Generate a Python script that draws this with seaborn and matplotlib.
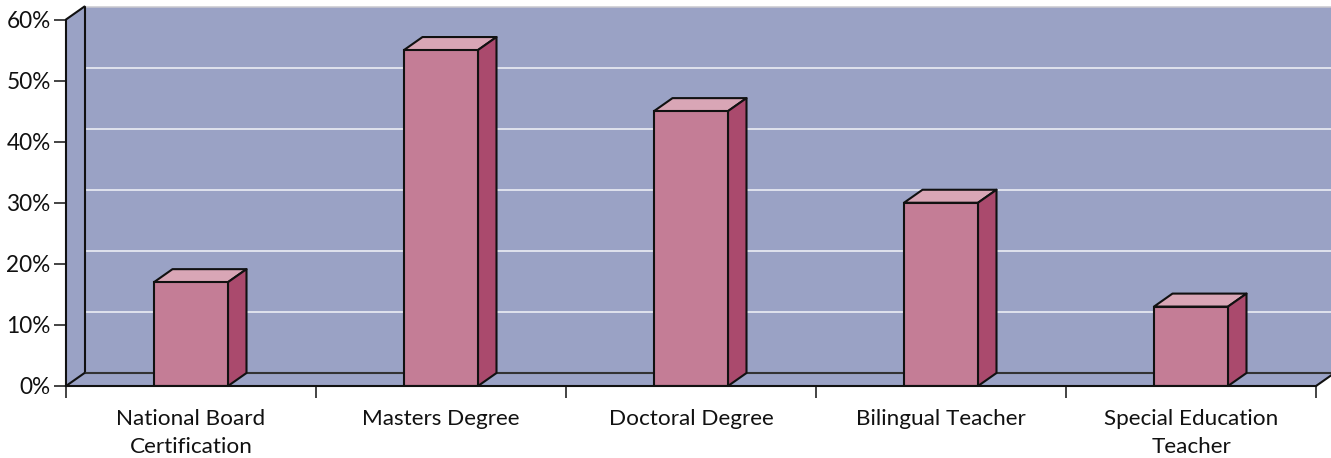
import matplotlib
matplotlib.use("Agg")
import matplotlib.pyplot as plt
import seaborn as sns
import pandas as pd
from matplotlib.patches import Polygon
from matplotlib.ticker import MultipleLocator, FuncFormatter

categories = ["National Board\nCertification", "Masters Degree", "Doctoral Degree",
              "Bilingual Teacher", "Special Education\nTeacher"]
values = [17, 55, 45, 30, 13]
y_ticks = [0, 10, 20, 30, 40, 50, 60]

W, H = 1331, 458
LEFT, RIGHT, BOTTOM, TOP = 66, 1316, 386, 19.5
WALL = "#9aa2c5"
FRONT = "#c47d96"
TOPFACE = "#d9a6b6"
SIDE = "#aa4a6d"
EDGE = "#111111"

sns.set_theme(style="white", rc={"font.family": ["Lato", "DejaVu Sans"]})
fig = plt.figure(figsize=(W / 100, H / 100), dpi=100)
ax = fig.add_axes([LEFT / W, 1 - BOTTOM / H, (RIGHT - LEFT) / W, (BOTTOM - TOP) / H])

df = pd.DataFrame({"category": categories, "value": values})
BAR_W = 0.296
sns.barplot(data=df, x="category", y="value", ax=ax, color=FRONT, saturation=1,
            width=BAR_W, edgecolor=EDGE, linewidth=1.5, zorder=6)
ax.set_xlim(-0.5, 4.5)
ax.set_ylim(0, 60)
ax.set_xlabel("")
ax.set_ylabel("")

# depth of the pseudo-3D projection, in data units
DX = 18.5 / ((RIGHT - LEFT) / 5)
DY = 13 / ((BOTTOM - TOP) / 60)
x0, x1 = -0.5, 4.5

def face(points, color, z, lw=1.5, edge=EDGE):
    ax.add_patch(Polygon(points, closed=True, facecolor=color, edgecolor=edge,
                         linewidth=lw, zorder=z, clip_on=False, joinstyle="round"))

# back wall, side wall and floor
face([(x0 + DX, DY), (x1 + DX, DY), (x1 + DX, 60 + DY), (x0 + DX, 60 + DY)], WALL, 1, lw=0)
face([(x0, 0), (x0 + DX, DY), (x0 + DX, 60 + DY), (x0, 60)], WALL, 1, lw=0)
face([(x0, 0), (x1, 0), (x1 + DX, DY), (x0 + DX, DY)], WALL, 1, lw=0)

# gridlines on the back wall; the top edge is a softer grey
for y in y_ticks[1:]:
    ax.plot([x0 + DX, x1 + DX], [y + DY, y + DY], color="#f2f3f8" if y < 60 else "#c9c9cf",
            lw=1.1, zorder=2, clip_on=False, solid_capstyle="butt")

# wall outlines
line = dict(color=EDGE, lw=1.5, zorder=3, clip_on=False)
ax.plot([x0 + DX, x0 + DX], [DY, 60 + DY], **line)
ax.plot([x0 + DX, x1 + DX], [DY, DY], color="#333333", lw=1.5, zorder=3, clip_on=False)
ax.plot([x0, x0 + DX], [0, DY], **line)
ax.plot([x0, x0 + DX], [60, 60 + DY], **line)
ax.plot([x1, x1 + DX], [0, DY], **line)

# top and side faces of each bar
for i, v in enumerate(values):
    l, r = i - BAR_W / 2, i + BAR_W / 2
    face([(l, v), (r, v), (r + DX, v + DY), (l + DX, v + DY)], TOPFACE, 5)
    face([(r, 0), (r + DX, DY), (r + DX, v + DY), (r, v)], SIDE, 5)

# axes: front left and bottom spines with outward ticks
for s in ("top", "right"):
    ax.spines[s].set_visible(False)
for s in ("left", "bottom"):
    ax.spines[s].set_color(EDGE)
    ax.spines[s].set_linewidth(1.5)
    ax.spines[s].set_zorder(7)

ax.set_yticks(y_ticks)
ax.yaxis.set_major_formatter(FuncFormatter(lambda v, _: f"{v:.0f}%"))
ax.yaxis.set_minor_locator(MultipleLocator(2))
ax.set_xticks([x0 + k for k in range(6)], minor=False)
ax.set_xticklabels([])
ax.tick_params(axis="y", which="major", left=True, length=8.5, width=1.1, color=EDGE,
               labelsize=16.3, pad=2.5, labelcolor="#111111")
ax.tick_params(axis="y", which="minor", left=True, direction="in", length=2, width=0.7, color="#333333")
ax.tick_params(axis="x", which="major", bottom=True, length=8.5, width=1.1, color=EDGE)
for t in ax.yaxis.get_major_ticks() + ax.xaxis.get_major_ticks():
    t.tick1line.set_clip_on(False)

# category captions, centred under each slot
for i, c in enumerate(categories):
    ax.annotate(c, xy=(i, 0), xytext=(0, -16.3), textcoords="offset points", ha="center", va="top",
                fontsize=16.2, color="#111111", linespacing=1.5, annotation_clip=False)

fig.savefig("out.png", dpi=100)
